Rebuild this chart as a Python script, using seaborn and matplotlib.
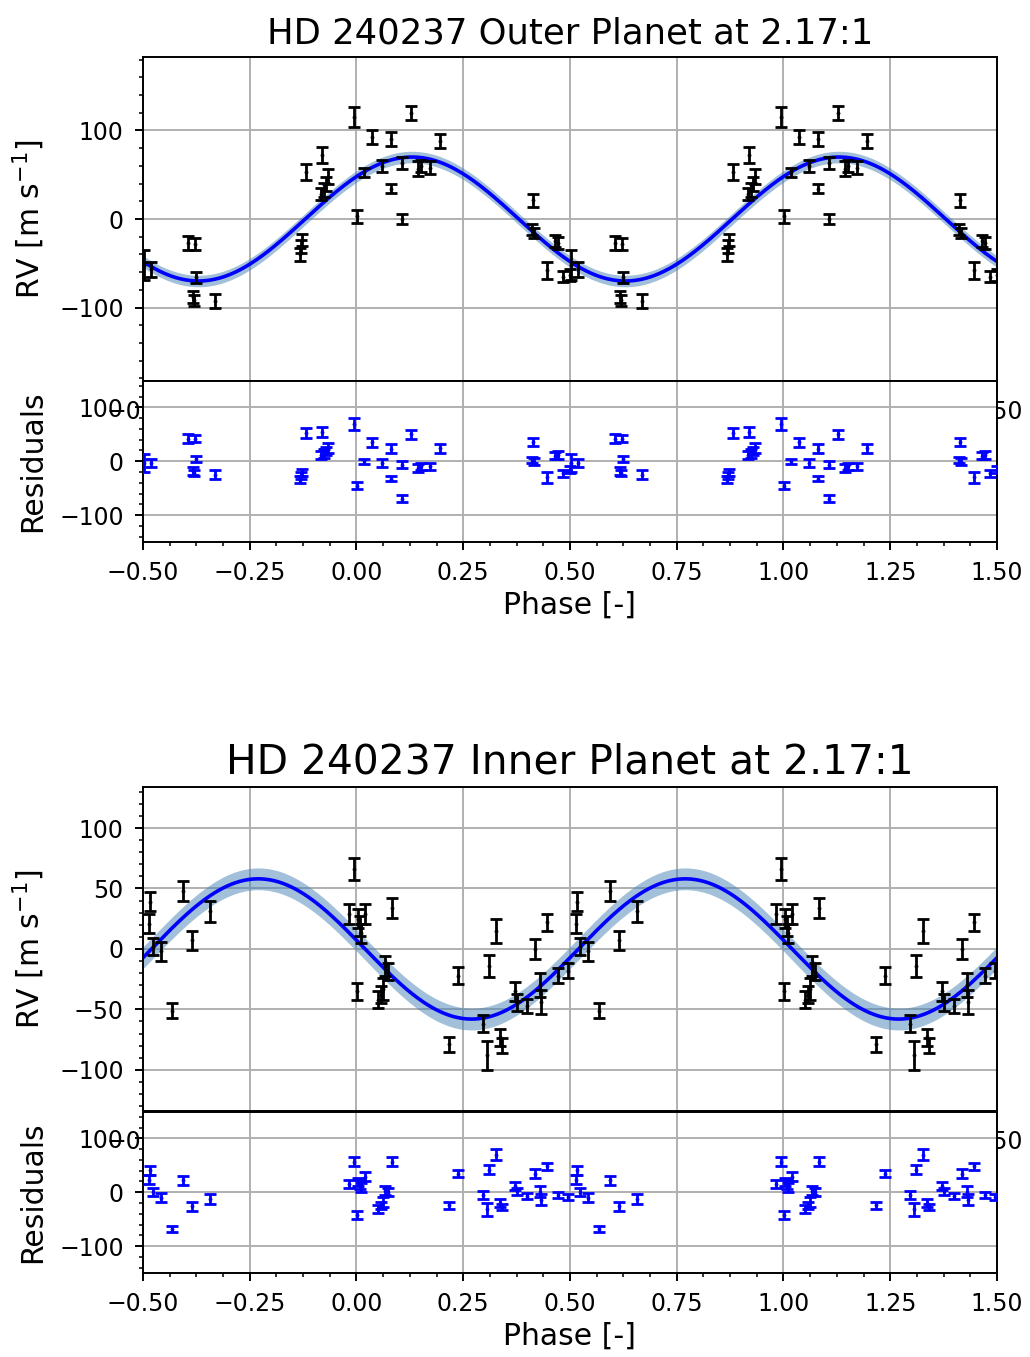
import numpy as np
import pandas as pd
import matplotlib
matplotlib.use('Agg')
import matplotlib.pyplot as plt
import seaborn as sns
from matplotlib.ticker import MultipleLocator

# HD 240237, outer planet, phase folded data (phase, RV, error)
outer_phase = [-0.497, -0.481, -0.394, -0.378, -0.376, -0.383, -0.381, -0.331,
               -0.128, -0.131, -0.133, -0.118, -0.080, -0.066, -0.083, -0.077, -0.072,
               -0.006, 0.001, 0.018, 0.036, 0.060, 0.080, 0.080, 0.106, 0.107,
               0.128, 0.145, 0.151, 0.172, 0.196,
               0.413, 0.412, 0.415, 0.446, 0.465, 0.472, 0.484, 0.499]
outer_rv = [-52, -57, -27, -28, -66, -88, -92, -93,
            -24, -31, -40, 53, 72, 48, 28, 33, 40,
            115, 3, 53, 93, 60, 90, 34, 63, 0,
            120, 57, 60, 58, 88,
            21, -12, -16, -58, -25, -27, -65, -63]
outer_err = [17, 8, 8, 7, 6, 7, 6, 8,
             7, 7, 7, 9, 9, 9, 7, 8, 8,
             11, 7, 5, 8, 7, 8, 5, 7, 6,
             8, 8, 7, 7, 8,
             7, 6, 6, 10, 7, 7, 6, 7]
outer_K = 70.0       # semi-amplitude of the fitted curve
outer_peak = 0.13    # phase of maximum
outer_band = 6.5     # half width of the uncertainty band

# HD 240237, inner planet
inner_phase = [-0.486, -0.484, -0.477, -0.458, -0.432, -0.407, -0.384, -0.343,
               -0.017, -0.005, 0.001, 0.004, 0.008, 0.010, 0.020,
               0.051, 0.058, 0.062, 0.067, 0.075, 0.084,
               0.217, 0.237, 0.297, 0.305, 0.311, 0.326, 0.336, 0.342,
               0.371, 0.375, 0.399, 0.418, 0.430, 0.432, 0.446, 0.472, 0.495]
inner_rv = [21, 39, 2, -2, -51, 48, 7, 31,
            29, 66, -35, 25, 19, 13, 29,
            -42, -38, -33, -14, -19, 34,
            -79, -22, -62, -88, -14, 15, -73, -80,
            -35, -44, -47, 0, -30, -44, 22, -22, -18]
inner_err = [8, 8, 7, 8, 6, 8, 8, 9,
             8, 9, 7, 8, 8, 8, 8,
             7, 7, 9, 8, 7, 8,
             6, 7, 7, 12, 9, 10, 7, 6,
             8, 7, 6, 8, 10, 10, 7, 6, 6]
inner_K = 58.0
inner_peak = -0.23
inner_band = 9.0


def model(phase, K, peak):
    return K * np.cos(2 * np.pi * (np.asarray(phase, dtype=float) - peak))


plt.rcParams['font.family'] = 'DejaVu Sans'
fig = plt.figure(figsize=(10.3, 13.57), dpi=100)

LEFT, WIDTH = 0.1388, 0.8291
LW = 1.4
EB = dict(fmt='.', ms=3.5, elinewidth=2.0, capsize=4, capthick=2.0, zorder=3)


def style_axis(ax):
    for s in ax.spines.values():
        s.set_linewidth(LW)
    ax.tick_params(which='major', length=5.8, width=LW, labelsize=17, pad=8)
    ax.tick_params(which='minor', length=3.0, width=LW * 0.8)
    ax.grid(True, which='major', color='#b0b0b0', lw=LW)
    ax.set_axisbelow(True)
    ax.set_xlim(-0.5, 1.5)
    ax.xaxis.set_major_locator(MultipleLocator(0.25))
    ax.xaxis.set_minor_locator(MultipleLocator(0.0625))


def panel(y_main, y_res, phase, rv, err, K, peak, band, ylim, ystep, title, tsize):
    df = pd.DataFrame({'phase': phase, 'rv': rv, 'err': err})
    df['res'] = df['rv'] - model(df['phase'], K, peak)
    both = pd.concat([df, df.assign(phase=df['phase'] + 1)], ignore_index=True)

    grid = np.linspace(-0.5, 1.5, 600)
    curve = pd.DataFrame({'phase': grid, 'rv': model(grid, K, peak)})

    ax = fig.add_axes([LEFT, y_main, WIDTH, 0.2388])
    style_axis(ax)
    ax.fill_between(curve['phase'], curve['rv'] - band, curve['rv'] + band,
                    color='steelblue', alpha=0.5, lw=0, zorder=2)
    sns.lineplot(data=curve, x='phase', y='rv', ax=ax, color='b', lw=2.6,
                 sort=False, zorder=2.5)
    ax.errorbar(both['phase'], both['rv'], yerr=both['err'], color='k', **EB)
    ax.set_ylim(*ylim)
    ax.yaxis.set_major_locator(MultipleLocator(ystep))
    ax.yaxis.set_minor_locator(MultipleLocator(ystep / 5))
    ax.set_xlabel('')
    ax.set_ylabel('RV [m s$^{-1}$]', fontsize=21.5, labelpad=9)
    ax.set_title(title, fontsize=tsize, pad=10)

    axr = fig.add_axes([LEFT, y_res, WIDTH, 0.119])
    style_axis(axr)
    axr.errorbar(both['phase'], both['res'], yerr=both['err'], color='b', **EB)
    axr.set_ylim(-150, 150)
    axr.yaxis.set_major_locator(MultipleLocator(100))
    axr.yaxis.set_minor_locator(MultipleLocator(20))
    axr.set_ylabel('Residuals', fontsize=21.5, labelpad=9)
    axr.set_xlabel('Phase [-]', fontsize=21.5)
    fig.align_ylabels([ax, axr])


panel(0.7192, 0.6006, outer_phase, outer_rv, outer_err, outer_K, outer_peak,
      outer_band, (-183, 183), 100, 'HD 240237 Outer Planet at 2.17:1', 25.5)
panel(0.1813, 0.0619, inner_phase, inner_rv, inner_err, inner_K, inner_peak,
      inner_band, (-134, 134), 50, 'HD 240237 Inner Planet at 2.17:1', 29.3)

fig.savefig('out.png', dpi=100)
